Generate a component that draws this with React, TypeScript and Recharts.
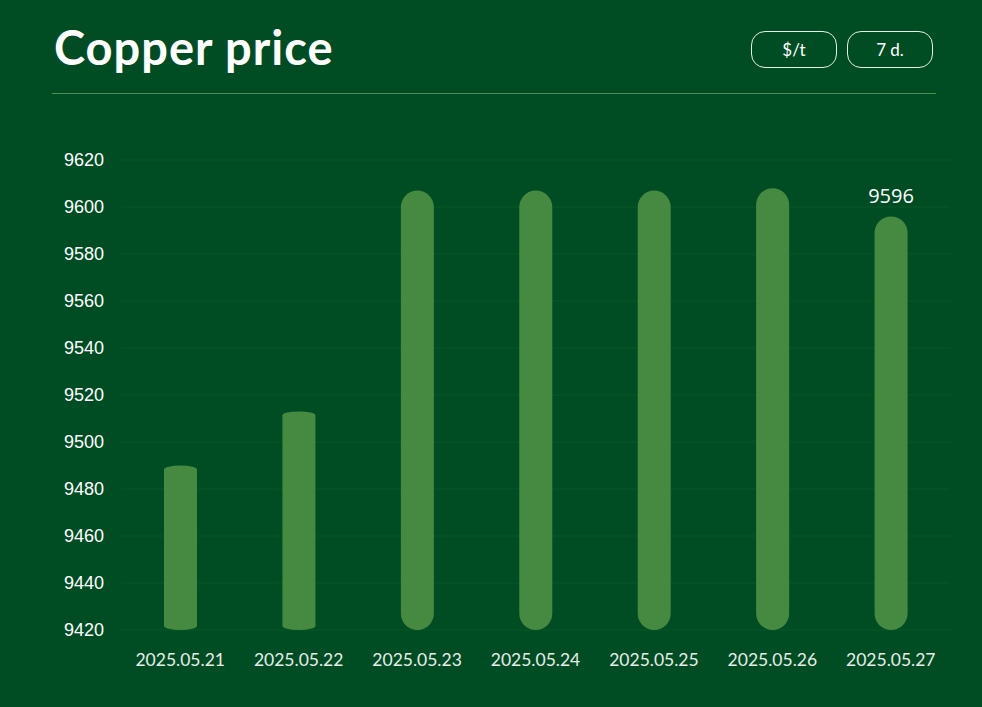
import * as React from 'react'
import { BarChart, Bar, XAxis, YAxis, CartesianGrid, LabelList } from 'recharts'

const dates = ['2025.05.21', '2025.05.22', '2025.05.23', '2025.05.24', '2025.05.25', '2025.05.26', '2025.05.27']
const prices = [9490, 9513, 9607, 9607, 9607, 9608, 9596]
const yTicks = [9420, 9440, 9460, 9480, 9500, 9520, 9540, 9560, 9580, 9600, 9620]

const chartData = dates.map((date, i) => ({ date, price: prices[i] }))

const BG = '#004d23'
const BAR = '#468a41'

// pill-ish bar: short bars get flat elliptical caps, tall ones full round caps
const PillBar = (props: any) => {
  const { x, y, width, height } = props
  if (!height || height <= 0) return null
  const rx = width / 2
  const ry = height > 300 ? width / 2 : 4
  const d = `M${x},${y + ry} A${rx},${ry} 0 0 1 ${x + width},${y + ry} L${x + width},${y + height - ry} A${rx},${ry} 0 0 1 ${x},${y + height - ry} Z`
  return <path d={d} fill={BAR} />
}

const LastLabel = (props: any) => {
  const { x, y, width, index, value } = props
  if (index !== prices.length - 1) return null
  return (
    <text x={x + width / 2} y={y - 13} textAnchor="middle" fill="#ffffff" fontSize={20} fontFamily="'Open Sans', sans-serif">
      {value}
    </text>
  )
}

const pill: React.CSSProperties = {
  position: 'absolute',
  top: 31,
  width: 84,
  height: 35,
  border: '1px solid #e6efe6',
  borderRadius: 14,
  color: '#ffffff',
  fontFamily: 'Lato, sans-serif',
  fontSize: 17,
  display: 'flex',
  alignItems: 'center',
  justifyContent: 'center',
}

export default function App() {
  return (
    <div style={{ position: 'absolute', left: 0, top: 0, width: 982, height: 707, background: BG, overflow: 'hidden' }}>
      <div
        style={{
          position: 'absolute',
          left: 54,
          top: 19,
          color: '#ffffff',
          fontFamily: 'Lato, sans-serif',
          fontWeight: 700,
          fontSize: 47,
          letterSpacing: 1,
        }}
      >
        Copper price
      </div>
      <div style={{ ...pill, left: 751 }}>$/t</div>
      <div style={{ ...pill, left: 847 }}>7 d.</div>
      <div style={{ position: 'absolute', left: 52, top: 93, width: 884, height: 1, background: '#4f8f52' }} />

      <div style={{ position: 'absolute', left: 0, top: 0 }}>
        <BarChart width={982} height={707} data={chartData} margin={{ top: 160, right: 32, bottom: 27, left: 52 }}>
          <CartesianGrid vertical={false} stroke="#08562a" strokeWidth={1} />
          <YAxis
            domain={[9420, 9620]}
            ticks={yTicks}
            width={69}
            axisLine={false}
            tickLine={false}
            tickSize={0}
            tickMargin={17}
            allowDataOverflow
            tick={{ fill: '#ffffff', fontSize: 18, fontFamily: "'Liberation Sans', Arial, sans-serif" }}
          />
          <XAxis
            dataKey="date"
            height={50}
            axisLine={false}
            tickLine={false}
            tickSize={0}
            tickMargin={24}
            interval={0}
            tick={{ fill: '#e8ece8', fontSize: 17.5, fontFamily: 'Lato, sans-serif' }}
          />
          <Bar dataKey="price" barSize={33} shape={PillBar} isAnimationActive={false}>
            <LabelList dataKey="price" content={LastLabel} />
          </Bar>
        </BarChart>
      </div>
    </div>
  )
}
